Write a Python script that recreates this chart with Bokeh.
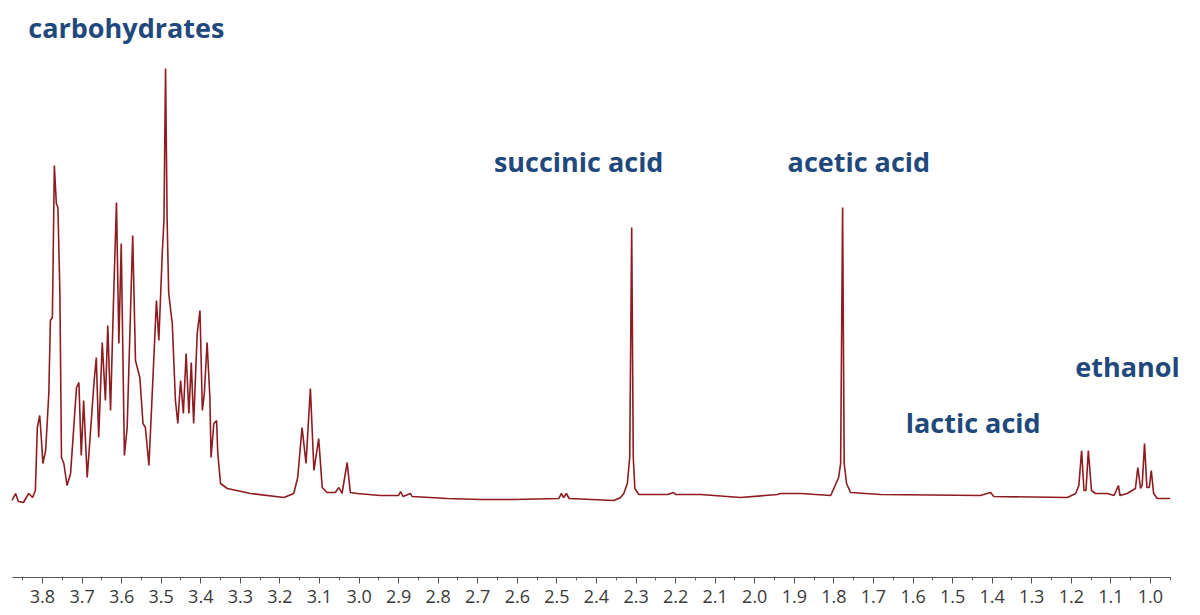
from bokeh.plotting import figure
from bokeh.models import Range1d, FixedTicker, PrintfTickFormatter, LinearAxis, ColumnDataSource
from bokeh.core.properties import value
from bokeh.embed import file_html
from bokeh.resources import INLINE

# 1H NMR spectrum: chemical shift (ppm) and intensity (a.u.)
ppm = [3.877, 3.868, 3.861, 3.848, 3.835, 3.825, 3.818, 3.813, 3.807, 3.803,
       3.799, 3.792, 3.784, 3.780, 3.775, 3.770, 3.765, 3.761, 3.756, 3.752,
       3.746, 3.738, 3.729, 3.721, 3.714, 3.708, 3.702, 3.696, 3.687, 3.679,
       3.670, 3.664, 3.658, 3.649, 3.641, 3.635, 3.628, 3.620, 3.613, 3.607,
       3.601, 3.593, 3.586, 3.572, 3.565, 3.554, 3.546, 3.540, 3.531, 3.520,
       3.512, 3.506, 3.497, 3.493, 3.489, 3.485, 3.481, 3.472, 3.464, 3.458,
       3.451, 3.444, 3.437, 3.430, 3.424, 3.418, 3.409, 3.402, 3.396, 3.391,
       3.384, 3.377, 3.374, 3.367, 3.360, 3.357, 3.350, 3.333, 3.274, 3.190,
       3.165, 3.155, 3.144, 3.134, 3.123, 3.114, 3.102, 3.093, 3.081, 3.060,
       3.051, 3.043, 3.030, 3.022, 3.005, 2.946, 2.900, 2.895, 2.889, 2.870,
       2.866, 2.777, 2.693, 2.609, 2.495, 2.489, 2.483, 2.476, 2.469, 2.356,
       2.339, 2.331, 2.322, 2.316, 2.311, 2.307, 2.303, 2.293, 2.221, 2.205,
       2.200, 2.137, 2.036, 1.943, 1.935, 1.884, 1.808, 1.788, 1.783, 1.778,
       1.774, 1.768, 1.758, 1.682, 1.430, 1.404, 1.396, 1.210, 1.189, 1.181,
       1.174, 1.168, 1.163, 1.157, 1.149, 1.139, 1.109, 1.092, 1.081, 1.077,
       1.059, 1.038, 1.032, 1.025, 1.021, 1.015, 1.009, 1.003, 0.998, 0.992,
       0.983, 0.950]
intensity = [-3, 4, -4, -5, 4, 0, 7, 70, 82, 60,
             34, 47, 104, 177, 180, 332, 294, 290, 204, 40,
             34, 12, 24, 70, 110, 115, 42, 97, 20, 64,
             114, 140, 60, 155, 97, 172, 87, 204, 295, 154,
             254, 42, 70, 262, 137, 120, 74, 70, 32, 127,
             197, 157, 247, 277, 429, 277, 204, 174, 97, 74,
             117, 84, 144, 84, 135, 74, 164, 187, 87, 104,
             155, 100, 40, 74, 77, 44, 14, 9, 4, 0,
             4, 20, 70, 34, 109, 27, 59, 10, 5, 5,
             10, 4, 35, 5, 4, 2, 2, 6, 1, 4,
             1, -1, -2, -2, -1, 4, 0, 4, -1, -3,
             0, 4, 14, 40, 270, 40, 9, 3, 3, 5,
             3, 3, 0, 3, 4, 4, 2, 20, 34, 290,
             34, 14, 5, 3, 2, 5, 1, 0, 4, 12,
             47, 7, 7, 47, 7, 4, 4, 2, 12, 2,
             4, 9, 30, 9, 12, 54, 10, 10, 27, 4,
             -1, -1]

# axis ticks
major_ticks = [3.8, 3.7, 3.6, 3.5, 3.4, 3.3, 3.2, 3.1, 3.0, 2.9, 2.8, 2.7, 2.6, 2.5,
               2.4, 2.3, 2.2, 2.1, 2.0, 1.9, 1.8, 1.7, 1.6, 1.5, 1.4, 1.3, 1.2, 1.1, 1.0]
minor_ticks = [3.85, 3.75, 3.65, 3.55, 3.45, 3.35, 3.25, 3.15, 3.05, 2.95, 2.85, 2.75,
               2.65, 2.55, 2.45, 2.35, 2.25, 2.15, 2.05, 1.95, 1.85, 1.75, 1.65, 1.55,
               1.45, 1.35, 1.25, 1.15, 1.05, 0.95]
axis_level = -80  # intensity at which the ppm axis is drawn

# compound annotations
label_text = ["carbohydrates", "succinic acid", "acetic acid", "lactic acid", "ethanol"]
label_ppm = [3.588, 2.445, 1.737, 1.448, 1.058]
label_int = [470, 336, 336, 75, 131]

p = figure(width=1184, height=615,
           x_range=Range1d(3.9061, 0.9140), y_range=Range1d(-118, 497),
           output_backend="svg", toolbar_location=None,
           x_axis_location=None, y_axis_location=None,
           min_border_left=0, min_border_right=0, min_border_top=0, min_border_bottom=0)
p.grid.visible = False
p.outline_line_color = None
p.background_fill_color = "white"
p.border_fill_color = "white"

axis = LinearAxis(ticker=FixedTicker(ticks=major_ticks, minor_ticks=minor_ticks),
                  formatter=PrintfTickFormatter(format="%.1f"),
                  bounds=(0.95, 3.876), fixed_location=axis_level)
axis.axis_line_color = "#555555"
axis.axis_line_width = 1
axis.major_tick_in = 0
axis.major_tick_out = 6
axis.minor_tick_in = 0
axis.minor_tick_out = 3
axis.major_tick_line_color = "#555555"
axis.minor_tick_line_color = "#666666"
axis.major_label_text_font = "Open Sans"
axis.major_label_text_font_size = "18px"
axis.major_label_text_color = "#3a3a3a"
axis.major_label_standoff = 6
p.add_layout(axis, "below")

src = ColumnDataSource(dict(x=ppm, y=intensity))
p.line("x", "y", source=src, line_color="#8E1B1F", line_width=1.6)

lsrc = ColumnDataSource(dict(x=label_ppm, y=label_int, t=label_text))
p.text("x", "y", text="t", source=lsrc, text_font=value("Open Sans"), text_font_style="bold",
       text_font_size="27px", text_color="#1F497D", text_align="center",
       text_baseline="alphabetic")

open("out.html", "w").write(file_html(p, INLINE))
